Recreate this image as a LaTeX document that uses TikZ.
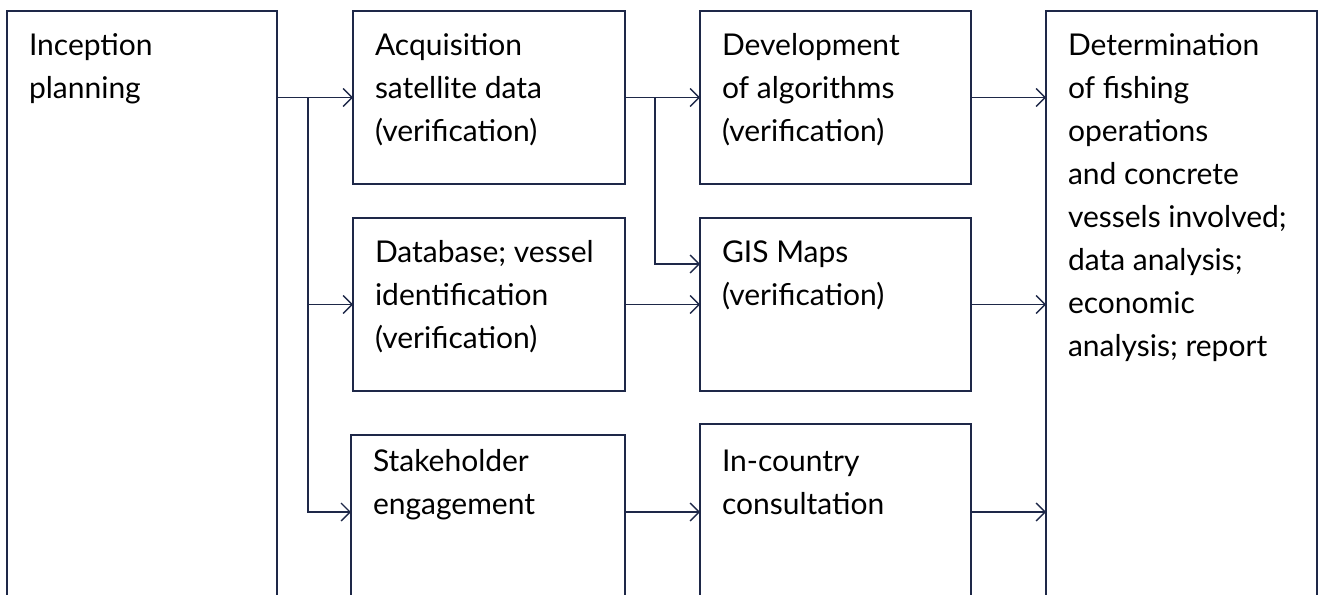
\documentclass[tikz,border=0pt]{standalone}
\usepackage{fontspec}
\setmainfont{Lato}
\usepackage{xcolor}
\usetikzlibrary{arrows.meta, positioning, calc}
\definecolor{navy}{RGB}{30,40,72}
\newcommand{\boxtext}[4]{\parbox[c][#2pt][t]{#1pt}{\raggedright\leftskip=22pt\rule{0pt}{#3pt}#4}}

\begin{document}
\begin{tikzpicture}[x=1pt,y=-1pt,>={Straight Barb[length=9pt,width=18pt]},
  box/.style={draw=navy,line width=1.3pt,anchor=north west,inner sep=0pt,outer sep=0pt,font=\fontsize{30}{43}\selectfont},
  link/.style={draw=navy,line width=1.3pt}]
  \clip (0,0) rectangle (1319,594);
  % columns of boxes
  \node[box] (incep) at (7,11) {\boxtext{270}{620}{44}{Inception\\planning}};
  \node[box] (acq) at (353,11) {\boxtext{272}{173}{44}{Acquisition\\satellite data\\(verification)}};
  \node[box,below=34pt of acq] (db) {\boxtext{272}{173}{44}{Database; vessel\\identification\\(verification)}};
  \node[box] (stake) at (351,435) {\boxtext{274}{200}{36}{Stakeholder\\engagement}};
  \node[box,right=75pt of acq] (dev) {\boxtext{271}{173}{44}{Development\\of algorithms\\(verification)}};
  \node[box,right=75pt of db] (gis) {\boxtext{271}{173}{44}{GIS Maps\\(verification)}};
  \node[box] (incty) at (700,424) {\boxtext{271}{200}{47}{In-country\\consultation}};
  \node[box] (det) at (1046,11) {\boxtext{271}{620}{44}{Determination\\of fishing\\operations\\and concrete\\vessels involved;\\data analysis;\\economic\\analysis; report}};
  % forks and rows
  \coordinate (fork1) at ($(incep.east |- acq.west)+(31,0)$);
  \coordinate (fork2) at ($(acq.east)+(30,0)$);
  \coordinate (gisin) at ($(gis.north west)+(0,46)$);
  \coordinate (row3) at ($(stake.north west)+(0,77)$);
  % connectors
  \draw[link,->] (incep.east |- acq.west) -- (acq.west);
  \draw[link,->] (fork1) |- (db.west);
  \draw[link,->] (fork1) |- (row3);
  \draw[link,->] (acq.east) -- (dev.west);
  \draw[link,->] (fork2) |- (gisin);
  \draw[link,->] (db.east) -- (gis.west);
  \draw[link,->] (row3 -| stake.east) -- (row3 -| incty.west);
  \draw[link,->] (dev.east) -- (dev.east -| det.west);
  \draw[link,->] (gis.east) -- (gis.east -| det.west);
  \draw[link,->] (row3 -| incty.east) -- (row3 -| det.west);
\end{tikzpicture}
\end{document}
